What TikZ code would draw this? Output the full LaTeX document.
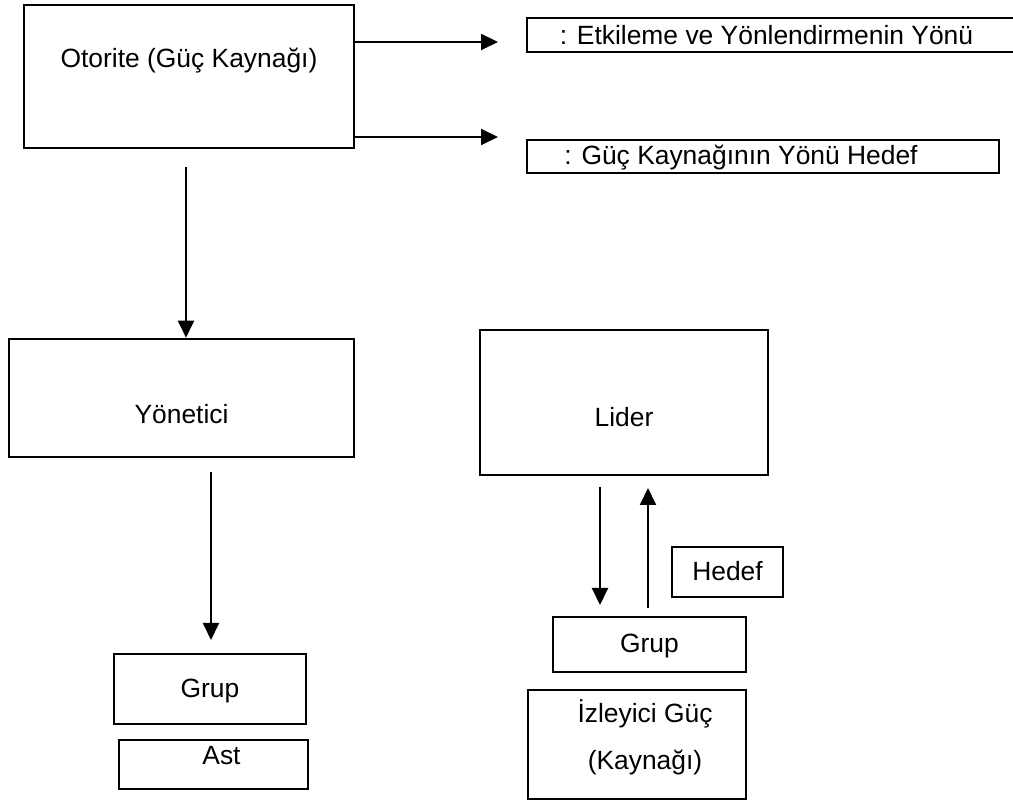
\documentclass[tikz,border=0pt]{standalone}
\usepackage{fontspec}
\setmainfont{Liberation Sans}
\usetikzlibrary{arrows.meta}

\begin{document}
\begin{tikzpicture}[
    x=0.5pt, y=-0.5pt,
    box/.style={rectangle, draw, line width=1.3pt, inner sep=0pt},
    txt/.style={font=\fontsize{13.2}{16}\selectfont, text height=9.5pt, text depth=2.8pt, inner sep=0pt},
    arrow/.style={-{Triangle[length=8.5pt, width=8pt]}, line width=1pt}
]
\useasboundingbox (0,0) rectangle (1013,801);

% authority side
\node[box, minimum width=165pt, minimum height=71.5pt,
      label={[txt, yshift=7.6pt]center:Otorite (Güç Kaynağı)}] (oto) at (189,76.5) {};
\node[box, minimum width=172.5pt, minimum height=59pt,
      label={[txt, yshift=-9.65pt]center:Yönetici}] (yon) at (181.5,398) {};
\node[box, minimum width=96pt, minimum height=35pt,
      label={[txt, yshift=-1.15pt]center:Grup}] (grupL) at (210,689) {};
\node[box, minimum width=94.5pt, minimum height=24.5pt,
      label={[txt, xshift=4pt, yshift=3.1pt]center:Ast}] (ast) at (213.5,764.5) {};

% legend
\node[box, minimum width=246.5pt, minimum height=17pt,
      label={[txt, xshift=-3.5pt, yshift=-1.65pt]center:{: Etkileme ve Yönlendirmenin Yönü}}] (leg1) at (773.5,35) {};
\node[box, minimum width=236pt, minimum height=16.5pt,
      label={[txt, xshift=-11pt, yshift=-0.9pt]center:{: Güç Kaynağının Yönü Hedef}}] (leg2) at (763,156.5) {};

% leader side
\node[box, minimum width=144pt, minimum height=72.5pt,
      label={[txt, yshift=-8.9pt]center:Lider}] (lid) at (624,402.5) {};
\node[box, minimum width=55.5pt, minimum height=25pt,
      label={[txt, yshift=-1.15pt]center:Hedef}] (hed) at (727.5,572) {};
\node[box, minimum width=96.5pt, minimum height=27.5pt,
      label={[txt, yshift=-0.9pt]center:Grup}] (grupR) at (649.5,644.5) {};
\node[box, minimum width=109pt, minimum height=54.5pt,
      label={[txt, xshift=4pt, yshift=14.1pt]center:İzleyici Güç},
      label={[txt, xshift=4pt, yshift=-9.4pt]center:(Kaynağı)}] (izl) at (637,744.5) {};

% free arrow ends
\coordinate (e1) at (498,42);
\coordinate (e2) at (498,137);
\coordinate (s1) at (186,167);
\coordinate (s2) at (211,472);
\coordinate (t2) at (211,640);
\coordinate (s3) at (600,487);
\coordinate (t3) at (600,605);
\coordinate (s4) at (648,608);
\coordinate (t4) at (648,488);

\draw[arrow] (oto.east |- e1) -- (e1);
\draw[arrow] (oto.east |- e2) -- (e2);
\draw[arrow] (s1) -- (s1 |- yon.north);
\draw[arrow] (s2) -- (t2);
\draw[arrow] (s3) -- (t3);
\draw[arrow] (s4) -- (t4);

\end{tikzpicture}
\end{document}
